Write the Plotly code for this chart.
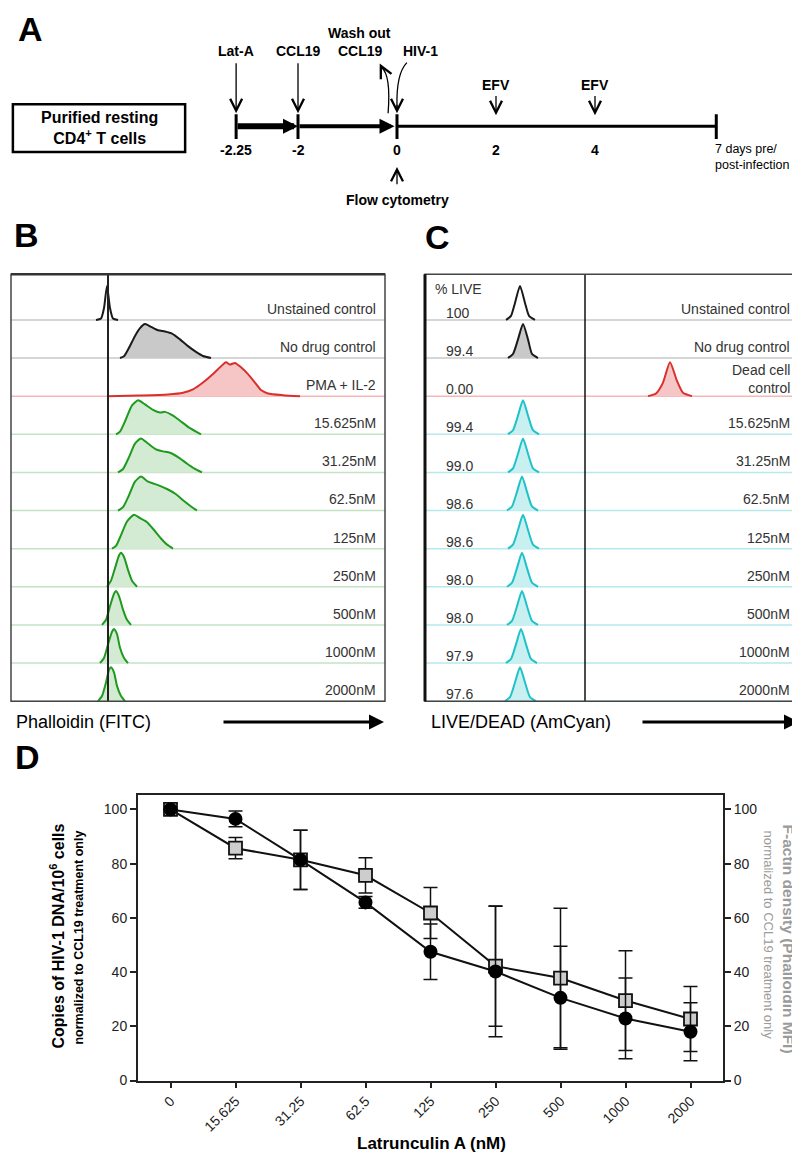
import plotly.graph_objects as go

W, H = 800, 1155
SANS = "Liberation Sans, Arial"

# ---------------- Panel A: treatment schedule ----------------
day_ticks = ["-2.25", "-2", "0", "2", "4"]
day_pos = [-3.25, -2, 0, 2, 4]      # drawn positions (schematic is not to scale before day -2)
end_pos = 6.45
end_label = "7 days pre/<br>post-infection"
efv_days = [2, 4]

# ---------------- Panel B: phalloidin (FITC) histograms, channel vs % of max ----------------
b_rows = ["Unstained control", "No drug control", "PMA + IL-2", "15.625nM", "31.25nM",
          "62.5nM", "125nM", "250nM", "500nM", "1000nM", "2000nM"]
b_unst_x = [85, 90, 93, 96, 99, 102, 107]
b_unst_y = [0, 4, 35, 100, 35, 4, 0]
b_nodrug_x = [109, 113, 118, 124, 129, 134, 140, 147, 154, 161, 169, 177, 185, 192, 200]
b_nodrug_y = [0, 5, 30, 65, 88, 100, 92, 82, 78, 72, 55, 35, 18, 6, 0]
b_pma_x = [97, 127, 157, 172, 182, 192, 202, 209, 215, 219, 224, 230, 237, 244, 250, 257, 272, 289]
b_pma_y = [0, 2, 5, 10, 20, 40, 65, 85, 100, 93, 98, 85, 65, 40, 18, 8, 3, 0]
b_15_x = [105, 109, 115, 121, 127, 134, 142, 149, 154, 162, 169, 177, 185, 190]
b_15_y = [0, 8, 45, 85, 100, 88, 72, 64, 66, 55, 40, 22, 8, 0]
b_31_x = [107, 112, 118, 124, 130, 137, 145, 152, 159, 167, 175, 183, 191]
b_31_y = [0, 10, 45, 85, 100, 85, 68, 62, 58, 45, 28, 12, 0]
b_62_x = [107, 112, 118, 124, 130, 137, 147, 157, 165, 173, 180, 186]
b_62_y = [0, 10, 45, 85, 100, 85, 75, 62, 48, 28, 12, 0]
b_125_x = [101, 105, 110, 116, 123, 129, 136, 143, 150, 156, 162]
b_125_y = [0, 8, 40, 80, 100, 90, 78, 55, 30, 12, 0]
b_250_x = [96, 100, 104, 108, 110, 113, 117, 121, 126]
b_250_y = [0, 18, 55, 92, 100, 88, 50, 18, 0]
b_500_x = [91, 95, 99, 103, 105, 108, 112, 116, 120]
b_500_y = [0, 15, 55, 92, 100, 85, 45, 15, 0]
b_1000_x = [89, 93, 97, 101, 103, 106, 109, 113, 117]
b_1000_y = [0, 15, 55, 92, 100, 85, 45, 15, 0]
b_2000_x = [87, 91, 95, 98, 100, 103, 106, 110, 114]
b_2000_y = [0, 15, 55, 92, 100, 85, 45, 15, 0]
b_gate = 97

# ---------------- Panel C: LIVE/DEAD (AmCyan) histograms ----------------
c_rows = ["Unstained control", "No drug control", "Dead cell<br>control", "15.625nM", "31.25nM",
          "62.5nM", "125nM", "250nM", "500nM", "1000nM", "2000nM"]
c_live = ["100", "99.4", "0.00", "99.4", "99.0", "98.6", "98.6", "98.0", "98.0", "97.9", "97.6"]
c_unst_x = [81, 86, 90, 95, 100, 104, 110]
c_unst_y = [0, 12, 50, 100, 50, 12, 0]
c_nodrug_x = [83, 88, 93, 98, 103, 107, 113]
c_nodrug_y = [0, 12, 55, 100, 55, 12, 0]
c_dead_x = [223, 231, 238, 245, 252, 258, 267]
c_dead_y = [0, 8, 40, 100, 45, 10, 0]
c_15_x = [83, 88, 93, 98, 103, 108, 114]
c_31_x = [83, 88, 93, 98, 103, 108, 114]
c_62_x = [82, 87, 92, 97, 102, 107, 113]
c_125_x = [83, 88, 93, 98, 103, 108, 114]
c_250_x = [82, 87, 92, 97, 102, 107, 113]
c_500_x = [82, 87, 92, 97, 102, 107, 113]
c_1000_x = [81, 86, 91, 96, 101, 106, 112]
c_2000_x = [80, 85, 90, 95, 100, 105, 111]
c_drug_y = [0, 12, 55, 100, 55, 12, 0]
c_gate = 160

# ---------------- Panel D: dose response ----------------
latA = ["0", "15.625", "31.25", "62.5", "125", "250", "500", "1000", "2000"]
hiv_dna = [100, 96.5, 81.4, 65.7, 47.5, 40.2, 30.5, 22.9, 18.0]
hiv_dna_err = [0, 2.9, 10.9, 2.2, 10.2, 24.1, 19.0, 14.9, 10.7]
factin = [100, 85.7, 81.4, 75.7, 61.8, 42.2, 37.8, 29.5, 22.7]
factin_err = [0, 3.9, 10.9, 6.5, 9.4, 22.2, 25.7, 18.4, 12.0]
y_ticks = [0, 20, 40, 60, 80, 100]

BLACK = ("#1a1a1a", "rgba(255,255,255,0)", "#c8c8c8")
GRAY = ("#1a1a1a", "#c9c9c9", "#c8c8c8")
RED = ("#d9302c", "#f6c5c5", "#f3b8b8")
GREEN = ("#1e9a1e", "#d3ead3", "#c3e3c3")
CYAN = ("#1fc2c8", "#c9f0f1", "#b5e9ec")

HS = 0.89  # row units reached by a 100 % peak


def fx(px):
    return px / W


def fy(py):
    return 1 - py / H


fig = go.Figure()


def hist_row(xa, ya, row, chans, pct, style, xmax):
    base = 10 - row
    line, fill, base_col = style
    fig.add_trace(go.Scatter(x=[0, xmax], y=[base, base], mode="lines",
                             line=dict(color=base_col, width=1.5),
                             xaxis=xa, yaxis=ya, hoverinfo="skip"))
    fig.add_trace(go.Scatter(x=chans, y=[base + p * HS / 100 for p in pct], mode="lines",
                             line=dict(color=line, width=2, shape="spline", smoothing=0.6),
                             fill="toself", fillcolor=fill,
                             xaxis=xa, yaxis=ya, hoverinfo="skip"))


b_data = [(b_unst_x, b_unst_y, BLACK), (b_nodrug_x, b_nodrug_y, GRAY), (b_pma_x, b_pma_y, RED),
          (b_15_x, b_15_y, GREEN), (b_31_x, b_31_y, GREEN), (b_62_x, b_62_y, GREEN),
          (b_125_x, b_125_y, GREEN), (b_250_x, b_250_y, GREEN), (b_500_x, b_500_y, GREEN),
          (b_1000_x, b_1000_y, GREEN), (b_2000_x, b_2000_y, GREEN)]
for i, (xs, ys, st) in enumerate(b_data):
    hist_row("x2", "y2", i, xs, ys, st, 374)

c_data = [(c_unst_x, c_unst_y, BLACK), (c_nodrug_x, c_nodrug_y, GRAY), (c_dead_x, c_dead_y, RED),
          (c_15_x, c_drug_y, CYAN), (c_31_x, c_drug_y, CYAN), (c_62_x, c_drug_y, CYAN),
          (c_125_x, c_drug_y, CYAN), (c_250_x, c_drug_y, CYAN), (c_500_x, c_drug_y, CYAN),
          (c_1000_x, c_drug_y, CYAN), (c_2000_x, c_drug_y, CYAN)]
for i, (xs, ys, st) in enumerate(c_data):
    hist_row("x3", "y3", i, xs, ys, st, 375)

# panel D traces (squares under circles, as in the original)
fig.add_trace(go.Scatter(
    x=latA, y=factin, mode="lines+markers", xaxis="x4", yaxis="y4",
    line=dict(color="#111", width=2),
    marker=dict(symbol="square", size=13, color="#cdcdcd", line=dict(color="#111", width=1.8)),
    error_y=dict(type="data", array=factin_err, color="#111", thickness=1.5, width=7),
))
fig.add_trace(go.Scatter(
    x=latA, y=hiv_dna, mode="lines+markers", xaxis="x4", yaxis="y4",
    line=dict(color="#111", width=2),
    marker=dict(symbol="circle", size=14, color="#000"),
    error_y=dict(type="data", array=hiv_dna_err, color="#111", thickness=1.5, width=7),
))
fig.add_trace(go.Scatter(x=latA, y=factin, mode="none", xaxis="x4", yaxis="y5", hoverinfo="skip"))

ann = []
shapes = []


def paper_text(text, px, py, size, color="#000", angle=0, xanchor="center"):
    ann.append(dict(text=text, x=fx(px), y=fy(py), xref="paper", yref="paper", xanchor=xanchor,
                    yanchor="middle", textangle=angle, showarrow=False,
                    font=dict(family=SANS, size=size, color=color)))


# ---- panel letters ----
for letter, px, py in [("A", 22, 21), ("B", 18, 229), ("C", 429, 231), ("D", 19, 754)]:
    paper_text("<b>%s</b>" % letter, px, py, 34)

# ---- panel A ----
A_TXT = dict(family=SANS, size=14, color="#000")
TL_Y = 119
shapes.append(dict(type="rect", xref="x", yref="y", x0=-7.76, x1=-4.28, y0=97, y1=145,
                   line=dict(color="#000", width=2.5)))
ann.append(dict(text="<b>Purified resting<br>CD4<sup>+</sup> T cells</b>", x=-6.02, y=121,
                xref="x", yref="y", showarrow=False, font=dict(family=SANS, size=16, color="#000")))
shapes.append(dict(type="line", xref="x", yref="y", x0=day_pos[2], x1=end_pos, y0=TL_Y, y1=TL_Y,
                   line=dict(color="#000", width=3)))
for xp in [day_pos[0], day_pos[1], day_pos[2], end_pos]:
    shapes.append(dict(type="line", xref="x", yref="y", x0=xp, x1=xp, y0=107, y1=132,
                       line=dict(color="#000", width=3)))
ann.append(dict(text="", x=day_pos[1], y=TL_Y, ax=day_pos[0], ay=TL_Y, xref="x", yref="y",
                axref="x", ayref="y", showarrow=True, arrowhead=2, arrowwidth=6, arrowsize=0.5,
                arrowcolor="#000"))
ann.append(dict(text="", x=day_pos[2] - 0.05, y=TL_Y, ax=day_pos[1], ay=TL_Y, xref="x", yref="y",
                axref="x", ayref="y", showarrow=True, arrowhead=2, arrowwidth=4, arrowsize=0.75,
                arrowcolor="#000"))
for lab, xp in zip(day_ticks, day_pos):
    ann.append(dict(text="<b>%s</b>" % lab, x=xp, y=143, xref="x", yref="y", showarrow=False, font=A_TXT))
ann.append(dict(text=end_label, x=end_pos - 0.06, y=150, xref="x", yref="y", xanchor="left",
                align="left", showarrow=False, font=dict(family=SANS, size=12.5, color="#000")))


def down_arrow(xp, y_top, y_head):
    ann.append(dict(text="", x=xp, y=y_head, ax=xp, ay=y_top, xref="x", yref="y", axref="x",
                    ayref="y", showarrow=True, arrowhead=5, arrowwidth=1.3, arrowsize=1.8,
                    arrowcolor="#000"))


down_arrow(day_pos[0], 54, 106)
down_arrow(day_pos[1], 54, 106)
for d in efv_days:
    down_arrow(d, 87, 108)
    ann.append(dict(text="<b>EFV</b>", x=d, y=78, xref="x", yref="y", showarrow=False, font=A_TXT))
down_arrow(0, 179, 160)
ann.append(dict(text="<b>Flow cytometry</b>", x=0, y=193, xref="x", yref="y", showarrow=False,
                font=A_TXT))
for lab, xp, yp in [("Lat-A", day_pos[0], 43), ("CCL19", day_pos[1], 43), ("Wash out", -0.75, 25),
                    ("CCL19", -0.73, 43), ("HIV-1", 0.48, 43)]:
    ann.append(dict(text="<b>%s</b>" % lab, x=xp, y=yp, xref="x", yref="y", showarrow=False, font=A_TXT))
# curved arrows: wash out (up) and HIV-1 (down)
shapes.append(dict(type="path", xref="x", yref="y", path="M -0.18,106 Q -0.12,68 -0.31,60",
                   line=dict(color="#000", width=1.3)))
ann.append(dict(text="", x=-0.35, y=56, ax=-0.29, ay=62, xref="x", yref="y", axref="x", ayref="y",
                showarrow=True, arrowhead=5, arrowwidth=1.3, arrowsize=1.8, arrowcolor="#000"))
shapes.append(dict(type="path", xref="x", yref="y", path="M 0.2,55 Q -0.02,66 0,100",
                   line=dict(color="#000", width=1.3)))
down_arrow(0, 96, 106)

# ---- panels B and C ----
LAB = dict(family=SANS, size=14, color="#333")
for i, lab in enumerate(b_rows):
    ann.append(dict(text=lab, x=0.981, y=10 - i + 0.29, xref="x2 domain", yref="y2",
                    xanchor="right", yanchor="middle", showarrow=False, font=LAB))
for i, lab in enumerate(c_rows):
    ann.append(dict(text=lab, x=0.979, y=10 - i + (0.45 if "<br>" in lab else 0.29), xref="x3 domain",
                    yref="y3", xanchor="right", yanchor="middle", align="right", showarrow=False,
                    font=LAB))
    ann.append(dict(text=c_live[i], x=19, y=10 - i + 0.18, xref="x3", yref="y3", xanchor="left",
                    yanchor="middle", showarrow=False, font=LAB))
ann.append(dict(text="% LIVE", x=8, y=10.82, xref="x3", yref="y3", xanchor="left", yanchor="middle",
                showarrow=False, font=LAB))
shapes.append(dict(type="line", xref="x2", yref="y2 domain", x0=b_gate, x1=b_gate, y0=0, y1=1,
                   line=dict(color="#222", width=2)))
shapes.append(dict(type="line", xref="x3", yref="y3 domain", x0=c_gate, x1=c_gate, y0=0, y1=1,
                   line=dict(color="#111", width=1.5)))
for ax in ["2", "3"]:
    shapes.append(dict(type="rect", xref="x%s domain" % ax, yref="y%s domain" % ax, x0=0, x1=1, y0=0, y1=1,
                       line=dict(color="#444", width=1.5)))
shapes.append(dict(type="line", xref="x2 domain", yref="y2 domain", x0=0, x1=1, y0=1, y1=1,
                   line=dict(color="#333", width=2.5)))
shapes.append(dict(type="line", xref="x3 domain", yref="y3 domain", x0=0, x1=0, y0=0, y1=1,
                   line=dict(color="#111", width=3)))

paper_text("Phalloidin (FITC)", 6, 719, 18, xanchor="left")
paper_text("LIVE/DEAD (AmCyan)", 421, 719, 18, xanchor="left")
for x_head, length in [(376, 162), (791, 158)]:
    ann.append(dict(text="", x=fx(x_head), y=fy(719), ax=-length, ay=0, xref="paper", yref="paper",
                    showarrow=True, arrowhead=2, arrowwidth=3, arrowsize=1, arrowcolor="#000"))

# ---- panel D titles ----
paper_text("<b>Copies of HIV-1 DNA/10<sup>6</sup> cells</b>", 49, 935, 16, angle=-90)
paper_text("<b>normalized to CCL19 treatment only</b>", 71, 936, 12.5, angle=-90)
paper_text("<b>F-actin density (Phalloidin MFI)</b>", 780, 937, 15.5, color="#9b9b9b", angle=90)
paper_text("normalized to CCL19 treatment only", 760, 933, 13, color="#9b9b9b", angle=90)
paper_text("<b>Latrunculin A (nM)</b>", 423, 1143, 17)

hidden = dict(visible=False, fixedrange=True, showgrid=False, zeroline=False)
d_y = dict(range=[0, 105.5], tickvals=y_ticks, ticks="outside", ticklen=6, tickwidth=1.5,
           tickcolor="#222", showline=True, linecolor="#222", linewidth=2, showgrid=False,
           zeroline=False, tickfont=dict(family=SANS, size=14, color="#222"))

fig.update_layout(
    width=W, height=H, margin=dict(l=0, r=0, t=0, b=0),
    paper_bgcolor="white", plot_bgcolor="white", showlegend=False,
    font=dict(family=SANS, color="#000"),
    xaxis=dict(hidden, domain=[0, 1], range=[-389 / 49.5, 411 / 49.5]),
    yaxis=dict(hidden, domain=[fy(205), 1], range=[205, 0]),
    xaxis2=dict(hidden, domain=[fx(3), fx(377)], range=[0, 374], anchor="y2"),
    yaxis2=dict(hidden, domain=[fy(698), fy(268)], range=[0, 11.2], anchor="x2"),
    xaxis3=dict(hidden, domain=[fx(417), fx(792)], range=[0, 375], anchor="y3"),
    yaxis3=dict(hidden, domain=[fy(698), fy(268)], range=[0, 11.2], anchor="x3"),
    xaxis4=dict(domain=[fx(130), fx(715)], anchor="y4", type="category", range=[-0.5, 8.5],
                showline=True, linecolor="#222", linewidth=2, mirror=True, ticks="outside",
                ticklen=5, tickwidth=1.5, tickcolor="#222", tickangle=-45, showgrid=False,
                zeroline=False, tickfont=dict(family=SANS, size=14, color="#222")),
    yaxis4=dict(d_y, domain=[fy(1080), fy(792)], anchor="x4"),
    yaxis5=dict(d_y, overlaying="y4", side="right", anchor="x4"),
    annotations=ann, shapes=shapes,
)

fig.write_html("out.html")
